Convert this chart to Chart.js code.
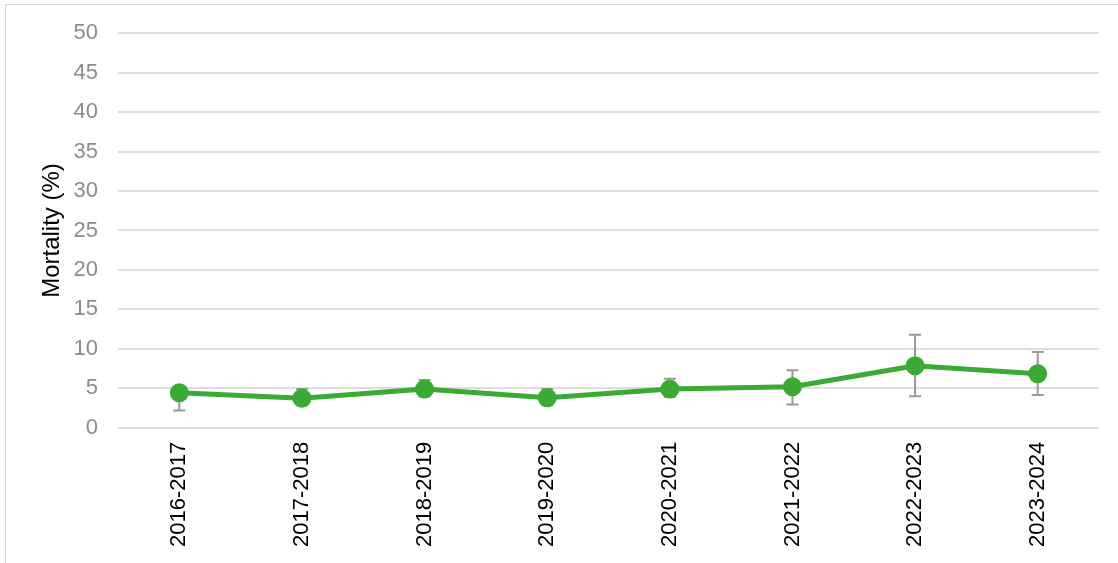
<!DOCTYPE html>
<html>
<head>
<meta charset="utf-8">
<script src="https://cdn.jsdelivr.net/npm/chart.js@4/dist/chart.umd.min.js"></script>
<style>
  html, body { margin: 0; padding: 0; background: #fff; }
  #wrap { position: relative; width: 1118px; height: 563px; overflow: hidden; }
  #frame { position: absolute; left: 5px; top: 4px; width: 1130px; height: 580px; border: 1px solid #d9d9d9; }
  canvas { position: absolute; left: 0; top: 0; }
</style>
</head>
<body>
<div id="wrap">
  <div id="frame"></div>
  <canvas id="mortChart" width="1118" height="563"></canvas>
</div>
<script>
// 年度ラベル
const seasons = ['2016-2017', '2017-2018', '2018-2019', '2019-2020', '2020-2021', '2021-2022', '2022-2023', '2023-2024'];
// 死亡率 (%)
const mortality = [4.45, 3.75, 4.9, 3.8, 4.9, 5.2, 7.85, 6.85];
// 誤差範囲（下限・上限）
const errLow = [2.2, 2.9, 3.95, 2.9, 3.9, 2.95, 4.0, 4.15];
const errHigh = [5.0, 4.9, 6.05, 4.9, 6.2, 7.3, 11.8, 9.6];
const yTicks = [0, 5, 10, 15, 20, 25, 30, 35, 40, 45, 50];

// 誤差棒を描くプラグイン
const errorBars = {
    id: 'errorBars',
    beforeDatasetsDraw(chart) {
        const { ctx, scales: { x, y } } = chart;
        ctx.save();
        ctx.strokeStyle = '#9a9a9a';
        ctx.lineWidth = 2;
        seasons.forEach((s, i) => {
            const px = x.getPixelForValue(i);
            const top = y.getPixelForValue(errHigh[i]);
            const bot = y.getPixelForValue(errLow[i]);
            ctx.beginPath();
            ctx.moveTo(px, top); ctx.lineTo(px, bot);
            ctx.moveTo(px - 6, top); ctx.lineTo(px + 6, top);
            ctx.moveTo(px - 6, bot); ctx.lineTo(px + 6, bot);
            ctx.stroke();
        });
        ctx.restore();
    }
};

const ctx = document.getElementById('mortChart').getContext('2d');
new Chart(ctx, {
    type: 'line',
    data: {
        labels: seasons,
        datasets: [{
            label: 'Mortality',
            data: mortality,
            borderColor: '#3aaa35',
            backgroundColor: '#3aaa35',
            borderWidth: 5,
            pointRadius: 7,
            pointHoverRadius: 7,
            tension: 0
        }]
    },
    options: {
        responsive: false,
        animation: false,
        layout: { padding: { left: 34, top: 32, right: 19, bottom: 2 } },
        plugins: {
            legend: { display: false },
            tooltip: { enabled: false }
        },
        scales: {
            x: {
                offset: true,
                grid: { display: false, drawTicks: false },
                border: { display: false },
                ticks: {
                    color: '#000',
                    font: { family: 'Liberation Sans, Arial', size: 22 },
                    minRotation: 90,
                    maxRotation: 90,
                    padding: 14
                }
            },
            y: {
                min: 0,
                max: 50,
                afterBuildTicks: s => { s.ticks = yTicks.map(v => ({ value: v })); },
                afterFit: s => { s.width = 84; },
                grid: { color: '#dedede', lineWidth: 2, drawTicks: false },
                border: { display: false },
                ticks: {
                    color: '#8c8c8c',
                    font: { family: 'Liberation Sans, Arial', size: 22 },
                    padding: 20
                },
                title: {
                    display: true,
                    text: 'Mortality (%)',
                    color: '#000',
                    font: { family: 'Liberation Sans, Arial', size: 24 },
                    padding: { top: 4, bottom: 0 }
                }
            }
        }
    },
    plugins: [errorBars]
});
</script>
</body>
</html>
